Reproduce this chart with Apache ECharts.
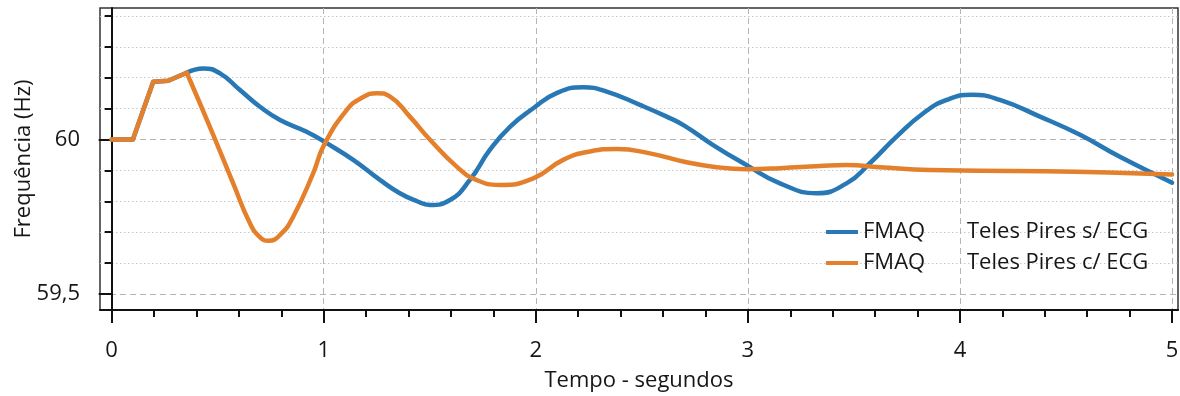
<!DOCTYPE html>
<html><head><meta charset="utf-8">
<script src="https://cdn.jsdelivr.net/npm/echarts@6/dist/echarts.min.js"></script>
<style>html,body{margin:0;padding:0;background:#fff}#c{width:1180px;height:396px}</style>
</head><body><div id="c"></div>
<script>
// ---- data ----
const seriesPrefix = 'FMAQ';
const seriesLabels = ['Teles Pires s/ ECG', 'Teles Pires c/ ECG'];

// first 5 points of each series are straight (step) segments, rest is a smooth curve
const tBlue = [0, 0.10, 0.196, 0.267, 0.354, 0.432, 0.511, 0.605, 0.699, 0.794, 0.919, 1.014, 1.139, 1.265, 1.359, 1.44, 1.5, 1.595, 1.689, 1.783, 1.878, 1.988, 2.098, 2.224, 2.334, 2.491, 2.617, 2.70, 2.836, 2.994, 3.151, 3.324, 3.465, 3.575, 3.701, 3.827, 3.937, 4.055, 4.188, 4.377, 4.566, 4.754, 4.974, 5.0];
const fBlue = [60.0, 60.0, 60.187, 60.19, 60.216, 60.23, 60.214, 60.16, 60.106, 60.063, 60.025, 59.988, 59.934, 59.869, 59.826, 59.80, 59.788, 59.804, 59.869, 59.966, 60.041, 60.101, 60.15, 60.169, 60.155, 60.112, 60.074, 60.045, 59.982, 59.917, 59.858, 59.826, 59.858, 59.923, 60.009, 60.085, 60.128, 60.145, 60.128, 60.074, 60.015, 59.944, 59.869, 59.86];

const tOrange = [0, 0.10, 0.196, 0.267, 0.354, 0.463, 0.573, 0.652, 0.70, 0.74, 0.80, 0.856, 0.95, 1.0, 1.108, 1.18, 1.25, 1.313, 1.406, 1.5, 1.627, 1.72, 1.83, 1.988, 2.129, 2.255, 2.381, 2.538, 2.70, 2.836, 2.994, 3.151, 3.34, 3.465, 3.622, 3.858, 4.094, 4.4, 4.7, 5.0];
const fOrange = [60.0, 60.0, 60.187, 60.19, 60.216, 60.041, 59.858, 59.729, 59.683, 59.672, 59.695, 59.75, 59.89, 59.98, 60.095, 60.135, 60.15, 60.139, 60.074, 60.0, 59.912, 59.869, 59.853, 59.874, 59.934, 59.961, 59.969, 59.955, 59.928, 59.912, 59.904, 59.907, 59.914, 59.917, 59.91, 59.901, 59.899, 59.897, 59.893, 59.887];
const straightCount = 5;

// ---- axes / ticks ----
const xMin = -0.055, xMax = 5.028;
const yMin = 59.448, yMax = 60.4256;
const xMajorTicks = [0, 1, 2, 3, 4, 5];
const xMinorTicks = [0.2, 0.4, 0.6, 0.8, 1.2, 1.4, 1.6, 1.8, 2.2, 2.4, 2.6, 2.8, 3.2, 3.4, 3.6, 3.8, 4.2, 4.4, 4.6, 4.8];
const yMajorTicks = [59.5, 60];
const yMajorLabels = ['59,5', '60'];
const yMinorTicks = [59.6, 59.7, 59.8, 59.9, 60.1, 60.2, 60.3, 60.4];
const xName = 'Tempo - segundos';
const yName = 'Frequência (Hz)';

const colors = ['#2878b5', '#e4802c'];
const FONT = 'Open Sans';
const TXT = '#161616';

function zip(t, f) { return t.map((v, i) => [v, f[i]]); }
const blue = zip(tBlue, fBlue), orange = zip(tOrange, fOrange);
const names = seriesLabels.map(s => seriesPrefix + '|' + s);

function lineSeries(name, data, color, smooth, z) {
  return { type: 'line', name, data, smooth, showSymbol: false, symbol: 'none', z,
    lineStyle: { color, width: 4.5, cap: 'round', join: 'round' }, itemStyle: { color }, xAxisIndex: 0, yAxisIndex: 0 };
}

const chart = echarts.init(document.getElementById('c'), null, { renderer: 'canvas' });
chart.setOption({
  animation: false,
  backgroundColor: '#fff',
  grid: { left: 100, top: 8, right: 2, bottom: 86, show: true, borderColor: '#333', borderWidth: 1.5,
    containLabel: false, outerBoundsMode: 'none' },
  legend: {
    data: names, left: 821, top: 215, orient: 'vertical', itemGap: 7,
    icon: 'rect', itemWidth: 32, itemHeight: 4,
    textStyle: { fontFamily: FONT, fontSize: 22, color: TXT, lineHeight: 24,
      rich: { a: { width: 104, fontFamily: FONT, fontSize: 22, color: TXT }, b: { fontFamily: FONT, fontSize: 22, color: TXT } } },
    formatter: n => { const p = n.split('|'); return '{a|' + p[0] + '}{b|' + p[1] + '}'; }
  },
  xAxis: [
    { type: 'value', min: xMin, max: xMax, position: 'bottom',
      name: xName, nameLocation: 'middle', nameGap: 60, nameMoveOverlap: false,
      nameTextStyle: { fontFamily: FONT, fontSize: 22, color: TXT },
      axisLine: { show: true, lineStyle: { color: '#111', width: 2 } },
      axisTick: { show: true, customValues: xMajorTicks, length: 13, lineStyle: { color: '#111', width: 2 } },
      axisLabel: { customValues: xMajorTicks, fontFamily: FONT, fontSize: 22, color: TXT, margin: 30 },
      splitLine: { show: true, lineStyle: { color: '#b4b4b4', type: [6, 4], width: 1 } } },
    { type: 'value', min: xMin, max: xMax, position: 'bottom',
      axisLine: { show: false },
      axisTick: { show: true, customValues: xMinorTicks, length: 7, lineStyle: { color: '#111', width: 2 } },
      axisLabel: { show: false },
      splitLine: { show: false } }
  ],
  yAxis: [
    { type: 'value', min: yMin, max: yMax, position: 'left',
      name: yName, nameLocation: 'middle', nameGap: 65, nameMoveOverlap: false,
      nameTextStyle: { fontFamily: FONT, fontSize: 22, color: TXT },
      axisLine: { show: true, lineStyle: { color: '#111', width: 2 } },
      axisTick: { show: true, customValues: yMajorTicks, length: 13, lineStyle: { color: '#111', width: 2 } },
      axisLabel: { customValues: yMajorTicks, fontFamily: FONT, fontSize: 22, color: TXT, margin: 20,
        formatter: v => { const i = yMajorTicks.findIndex(m => Math.abs(m - v) < 1e-6); return i >= 0 ? yMajorLabels[i] : ''; } },
      splitLine: { show: true, lineStyle: { color: '#b4b4b4', type: [6, 4], width: 1 } } },
    { type: 'value', min: yMin, max: yMax, position: 'left',
      axisLine: { show: false },
      axisTick: { show: true, customValues: yMinorTicks, length: 7, lineStyle: { color: '#111', width: 2 } },
      axisLabel: { show: false },
      splitLine: { show: true, lineStyle: { color: '#c8c8c8', type: [1.5, 2.5], width: 1 } } }
  ],
  series: [
    lineSeries(names[0], blue.slice(0, straightCount), colors[0], false, 2),
    lineSeries(names[0], blue.slice(straightCount - 1), colors[0], 0.5, 2),
    lineSeries(names[1], orange.slice(0, straightCount), colors[1], false, 3),
    lineSeries(names[1], orange.slice(straightCount - 1), colors[1], 0.5, 3)
  ]
});
</script></body></html>
